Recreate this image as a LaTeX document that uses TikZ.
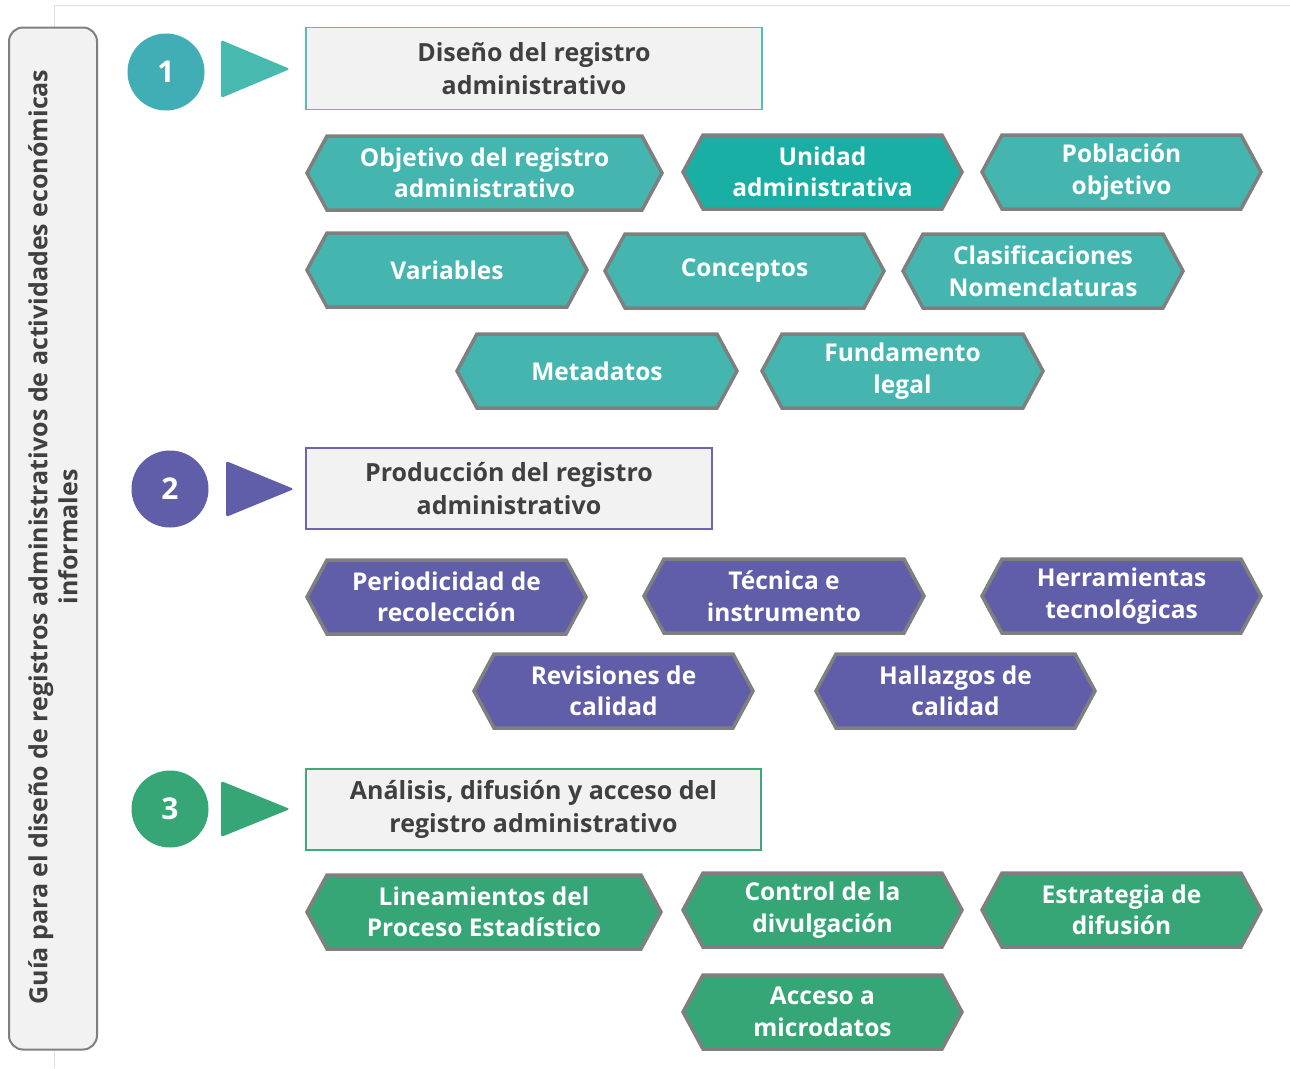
\documentclass[tikz,border=0pt]{standalone}
\usepackage{fontspec}
\setmainfont{Open Sans}
\definecolor{tealc}{HTML}{41AEB5}
\definecolor{tealtri}{HTML}{48B9AF}
\definecolor{tealbox}{HTML}{4FC0B5}
\definecolor{tealhex}{HTML}{45B6AF}
\definecolor{tealdark}{HTML}{1AAFA5}
\definecolor{purp}{HTML}{605EA9}
\definecolor{purpbox}{HTML}{6A66B3}
\definecolor{grn}{HTML}{36A676}
\definecolor{grnbox}{HTML}{3DAA77}
\definecolor{hexborder}{HTML}{7F7F7F}
\definecolor{boxgray}{HTML}{F2F2F2}
\definecolor{darktext}{HTML}{404040}
\tikzset{
  hexs/.style={draw=hexborder, line width=3.5pt, line join=miter},
  hext/.style={text=white, font=\bfseries\fontsize{24.5}{31.5}\selectfont, align=center, inner sep=0pt},
  numc/.style={circle, minimum size=77pt, inner sep=0pt, text=white, font=\bfseries\fontsize{30}{32}\selectfont},
  headbox/.style={draw, fill=boxgray, line width=1.8pt, text=darktext, align=center, font=\bfseries\fontsize{25}{33}\selectfont, inner sep=0pt},
  tri/.style={rounded corners=2.5pt},
}
\newcommand\hexbox[6]{%
  \draw[hexs, fill=#5] (#2+22,#4-37) -- (#3-22,#4-37) -- (#3-2,#4) -- (#3-22,#4+37) -- (#2+22,#4+37) -- (#2+2,#4) -- cycle;
  \node[hext] (#1) at ({(#2+#3)/2},#4) {#6};
}
\begin{document}
\begin{tikzpicture}[x=1pt, y=-1pt]
\useasboundingbox (0,0) rectangle (1290,1068);
% light frame lines
\draw[gray!25, line width=1pt] (54,1068) -- (54,5) -- (1290,5);
% sidebar
\node[draw=hexborder, line width=2pt, fill=boxgray, rounded corners=14pt, minimum width=88pt, minimum height=1022pt, inner sep=0pt] (side) at (53,538.5) {};
\node[rotate=90, align=center, text=darktext, font=\bfseries\fontsize{25}{30}\selectfont, inner sep=0pt] (sidetext) at (53,537) {Guía para el diseño de registros administrativos de actividades económicas\\informales};

% ===== Section 1
\node[numc, fill=tealc] (n1) at (166,72) {1};
\fill[tealtri, tri] (221,40) -- (290,69) -- (221,98) -- cycle;
\node[headbox, draw=tealbox, minimum width=456pt, minimum height=82pt] (h1) at (534,68.5) {Diseño del registro\\administrativo};

\hexbox{a1}{305}{664}{173}{tealhex}{Objetivo del registro\\administrativo}
\hexbox{a2}{681}{964}{172}{tealdark}{Unidad\\administrativa}
\hexbox{a3}{980}{1263}{172}{tealhex}{Población\\objetivo}
\hexbox{a4}{305}{589}{270}{tealhex}{Variables}
\hexbox{a5}{603}{886}{271}{tealhex}{Conceptos}
\hexbox{a6}{901}{1185}{271}{tealhex}{Clasificaciones\\Nomenclaturas}
\hexbox{a7}{455}{739}{371}{tealhex}{Metadatos}
\hexbox{a8}{760}{1045}{371}{tealhex}{Fundamento\\legal}

% ===== Section 2
\node[numc, fill=purp] (n2) at (170,489) {2};
\fill[purp, tri] (226,461) -- (294,489) -- (226,517) -- cycle;
\node[headbox, draw=purpbox, minimum width=406pt, minimum height=81pt] (h2) at (509,488.5) {Producción del registro\\administrativo};

\hexbox{b1}{305}{588}{597}{purp}{Periodicidad de\\recolección}
\hexbox{b2}{642}{926}{596}{purp}{Técnica e\\instrumento}
\hexbox{b3}{980}{1263}{596}{purp}{Herramientas\\tecnológicas}
\hexbox{b4}{472}{755}{691}{purp}{Revisiones de\\calidad}
\hexbox{b5}{814}{1097}{691}{purp}{Hallazgos de\\calidad}

% ===== Section 3
\node[numc, fill=grn] (n3) at (170,809) {3};
\fill[grn, tri] (221,781) -- (290,809) -- (221,837) -- cycle;
\node[headbox, draw=grnbox, minimum width=455pt, minimum height=81pt] (h3) at (533.5,809.5) {Análisis, difusión y acceso del\\registro administrativo};

\hexbox{c1}{305}{663}{912}{grn}{Lineamientos del\\Proceso Estadístico}
\hexbox{c2}{681}{964}{910}{grn}{Control de la\\divulgación}
\hexbox{c3}{980}{1263}{910}{grn}{Estrategia de\\difusión}
\hexbox{c4}{681}{964}{1012}{grn}{Acceso a\\microdatos}
\end{tikzpicture}
\end{document}
